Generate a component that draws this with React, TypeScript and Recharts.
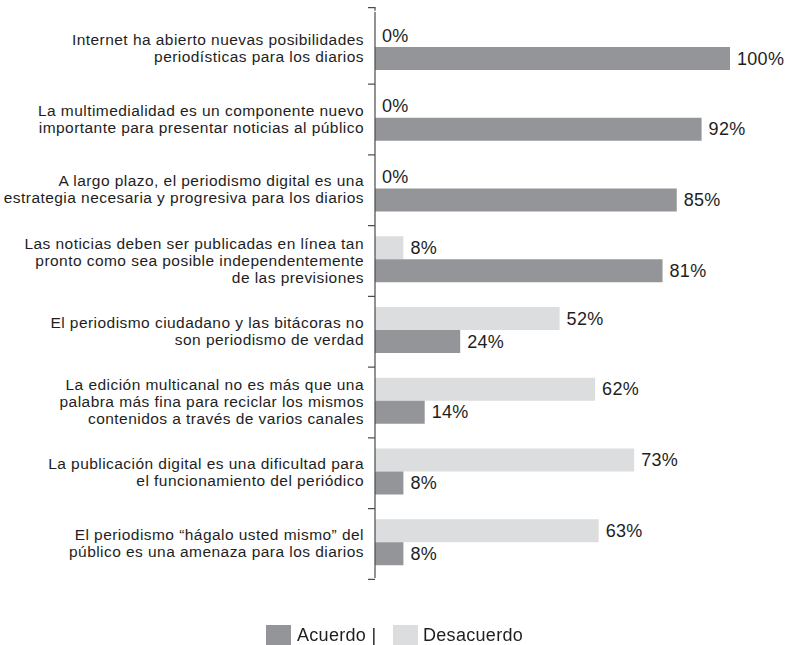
import React from 'react';
import { BarChart, Bar, XAxis, YAxis, LabelList, Legend } from 'recharts';

const categories: string[][] = [
  ['Internet ha abierto nuevas posibilidades', 'periodísticas para los diarios'],
  ['La multimedialidad es un componente nuevo', 'importante para presentar noticias al público'],
  ['A largo plazo, el periodismo digital es una', 'estrategia necesaria y progresiva para los diarios'],
  ['Las noticias deben ser publicadas en línea tan', 'pronto como sea posible independentemente', 'de las previsiones'],
  ['El periodismo ciudadano y las bitácoras no', 'son periodismo de verdad'],
  ['La edición multicanal no es más que una', 'palabra más fina para reciclar los mismos', 'contenidos a través de varios canales'],
  ['La publicación digital es una dificultad para', 'el funcionamiento del periódico'],
  ['El periodismo “hágalo usted mismo” del', 'público es una amenaza para los diarios'],
];
const acuerdo: number[] = [100, 92, 85, 81, 24, 14, 8, 8];
const desacuerdo: number[] = [0, 0, 0, 8, 52, 62, 73, 63];
const seriesNames = ['Acuerdo |', 'Desacuerdo'];

const DARK = '#939598';
const LIGHT = '#dcddde';
const AXIS = '#4a4a4a';
const TEXT = '#1e1e1e';
const FONT = '"Liberation Sans", Arial, Helvetica, sans-serif';

const W = 789;
const H = 645;
const M = { top: 12, right: 59, bottom: 45, left: 0 };
const YW = 375;

const data = categories.map((c, i) => ({
  key: String(i),
  acuerdo: acuerdo[i],
  desacuerdo: desacuerdo[i],
}));

const band = (H - M.top - M.bottom) / categories.length;

const Tick = (props: any) => {
  const { x, y, index } = props;
  const lines = categories[Number(props.payload.value)] || [];
  const lh = 17;
  const ax = x + 8; // axis line position
  const startY = y - ((lines.length - 1) * lh) / 2;
  const topY = y - band / 2 - 3;
  return (
    <g>
      <text
        x={ax - 11}
        y={startY}
        textAnchor="end"
        dominantBaseline="central"
        fontSize={15.5}
        letterSpacing={0.45}
        fill={TEXT}
        fontFamily={FONT}
      >
        {lines.map((l, i) => (
          <tspan key={i} x={ax - 11} y={startY + i * lh}>
            {l}
          </tspan>
        ))}
      </text>
      <line x1={ax - 7} x2={ax} y1={y + band / 2} y2={y + band / 2} stroke={AXIS} strokeWidth={1.2} />
      {index === 0 && (
        <g>
          <line x1={ax} x2={ax} y1={topY} y2={y - band / 2} stroke={AXIS} strokeWidth={1.2} />
          <line x1={ax - 7} x2={ax + 0.6} y1={topY} y2={topY} stroke={AXIS} strokeWidth={1.2} />
        </g>
      )}
    </g>
  );
};

const labelText = (x: number, y: number, v: number, k: string) => (
  <text
    key={k}
    x={x}
    y={y}
    dominantBaseline="central"
    fontSize={18}
    letterSpacing={0.3}
    fill={TEXT}
    fontFamily={FONT}
  >
    {`${v}%`}
  </text>
);

const LightLabel = (props: any) => {
  const { x, y, width, height, value } = props;
  if (!value) return null;
  return labelText(Number(x) + Number(width || 0) + 7, Number(y) + Number(height) / 2, value, 'l');
};

const DarkLabel = (props: any) => {
  const { x, y, width, height, value, index } = props;
  const h = Number(height);
  const out = [labelText(Number(x) + Number(width || 0) + 7, Number(y) + h / 2, value, 'd')];
  if (desacuerdo[index] === 0) {
    // zero-width light bar sits just above the dark bar, at the axis
    out.push(labelText(Number(x) + 7, Number(y) - h / 2, 0, 'z'));
  }
  return <g>{out}</g>;
};

const LegendContent = () => (
  <div style={{ position: 'relative', height: 22, fontFamily: FONT, fontSize: 18, color: TEXT }}>
    <span style={{ position: 'absolute', left: 266, top: 0, width: 25, height: 20, background: DARK }} />
    <span style={{ position: 'absolute', left: 297, top: -1, lineHeight: '22px', letterSpacing: 0.3 }}>{seriesNames[0]}</span>
    <span style={{ position: 'absolute', left: 393, top: 0, width: 25, height: 20, background: LIGHT }} />
    <span style={{ position: 'absolute', left: 423, top: -1, lineHeight: '22px', letterSpacing: 0.3 }}>{seriesNames[1]}</span>
  </div>
);

export default function App() {
  return (
    <div style={{ position: 'fixed', left: 0, top: 0, width: W, height: H, background: '#fff' }}>
      <BarChart
        width={W}
        height={H}
        data={data}
        layout="vertical"
        margin={M}
        barGap={0}
        barSize={23}
      >
        <XAxis type="number" domain={[0, 100]} hide />
        <YAxis
          type="category"
          dataKey="key"
          width={YW}
          tick={<Tick />}
          tickLine={false}
          tickSize={0}
          tickMargin={8}
          axisLine={{ stroke: AXIS, strokeWidth: 1.2 }}
          interval={0}
        />
        <Legend
          content={<LegendContent />}
          wrapperStyle={{ position: 'absolute', top: 625, left: 0, width: W }}
        />
        <Bar dataKey="desacuerdo" fill={LIGHT} isAnimationActive={false}>
          <LabelList dataKey="desacuerdo" content={<LightLabel />} />
        </Bar>
        <Bar dataKey="acuerdo" fill={DARK} isAnimationActive={false}>
          <LabelList dataKey="acuerdo" content={<DarkLabel />} />
        </Bar>
      </BarChart>
    </div>
  );
}
